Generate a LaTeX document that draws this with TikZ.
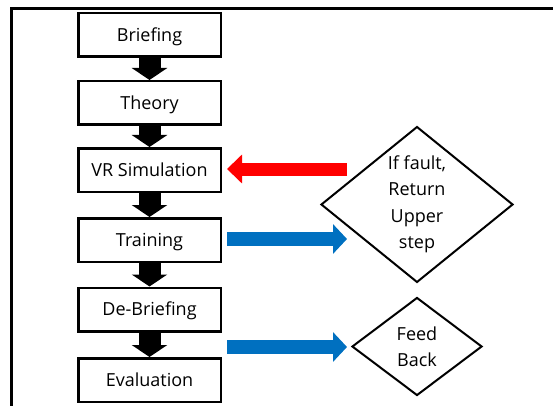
\documentclass[tikz,border=0pt]{standalone}
\usepackage{fontspec}
\setmainfont{Open Sans}
\usetikzlibrary{shapes.geometric,arrows.meta,calc}
\definecolor{arrred}{RGB}{255,0,0}
\definecolor{arrblue}{RGB}{0,112,192}
\begin{document}
\begin{tikzpicture}[x=1pt,y=-1pt,
  stepbox/.style={draw, line width=2.5pt, minimum width=142.5pt, minimum height=43.5pt,
    inner sep=0pt, text height=12.8pt, text depth=0pt, font=\fontsize{18}{22}\selectfont},
  decision/.style={draw, diamond, line width=2pt, inner sep=0pt, align=center,
    font=\fontsize{18}{26.5}\selectfont},
  downarrow/.style={line width=22pt, -{Triangle[length=12pt,width=35pt]}},
  redarrow/.style={draw=arrred, line width=13pt, -{Triangle[length=15pt,width=28pt]}},
  bluearrow/.style={draw=arrblue, line width=14pt, -{Triangle[length=14pt,width=29pt]}},
  frame/.style={line width=3pt}
]
\useasboundingbox (0,0) rectangle (553,406);
% frame
\coordinate (fl) at (11,406);
\coordinate (fc) at (11,8.5);
\coordinate (fr) at (553,8.5);
\draw[frame] (fl) -- (fc) -- (fr);

% steps
\node[stepbox] (brief) at (149.5,35) {Briefing};
\node[stepbox] (theory) at (149.5,103) {Theory};
\node[stepbox] (vr) at (149.5,170) {VR Simulation};
\node[stepbox] (train) at (149.5,240) {Training};
\node[stepbox] (debrief) at (149.5,309.5) {De-Briefing};
\node[stepbox] (eval) at (149.5,380) {Evaluation};

\draw[downarrow] (brief.south) -- (theory.north);
\draw[downarrow] (theory.south) -- (vr.north);
\draw[downarrow] (vr.south) -- (train.north);
\draw[downarrow] (train.south) -- (debrief.north);
\draw[downarrow] (debrief.south) -- (eval.north);

% decisions
\node[decision, minimum width=192pt, minimum height=145pt] (fault) at (417,204.5)
  {If fault,\\Return\\Upper\\step};
\node[decision, minimum width=130pt, minimum height=98pt] (feed) at (417,346.5)
  {Feed\\Back};

% side arrows
\coordinate (rtail) at (347,169);
\coordinate (rtip) at (227,169);
\draw[redarrow] (rtail) -- (rtip);
\coordinate (b1tail) at (227,239);
\coordinate (b1tip) at (347,239);
\draw[bluearrow] (b1tail) -- (b1tip);
\coordinate (b2tail) at (227,347);
\coordinate (b2tip) at (347,347);
\draw[bluearrow] (b2tail) -- (b2tip);
\end{tikzpicture}
\end{document}
